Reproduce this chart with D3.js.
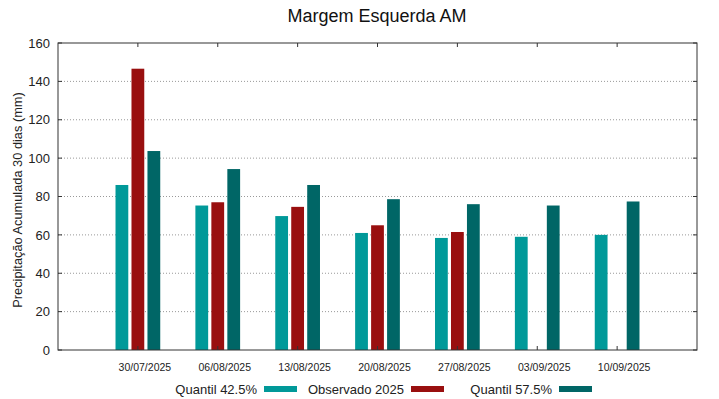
<!DOCTYPE html>
<html>
<head>
<meta charset="utf-8">
<script src="https://cdn.jsdelivr.net/npm/d3@7"></script>
<style>
  body { margin: 0; background: #fff; }
  svg { display: block; font-family: "Liberation Sans", Arial, sans-serif; }
</style>
</head>
<body>
<svg id="chart" width="719" height="399"></svg>
<script>
// data
const dates = ["30/07/2025", "06/08/2025", "13/08/2025", "20/08/2025", "27/08/2025", "03/09/2025", "10/09/2025"];
const q425 = [86, 75.3, 69.8, 61, 58.4, 59, 60];
const obs2025 = [146.6, 77, 74.6, 65, 61.5, null, null];
const q575 = [103.7, 94.3, 86, 78.6, 76, 75.3, 77.4];
const yTicks = [0, 20, 40, 60, 80, 100, 120, 140, 160];

const series = [
  { name: "Quantil 42.5%", values: q425, color: "#009999", off: -0.2 },
  { name: "Observado 2025", values: obs2025, color: "#990f0f", off: 0 },
  { name: "Quantil 57.5%", values: q575, color: "#006666", off: 0.2 }
];

const svg = d3.select("#chart");
const pl = 58, pr = 697, pt = 43, pb = 350;

const x = d3.scaleLinear().domain([0, 8]).range([pl, pr]);
const y = d3.scaleLinear().domain([0, 160]).range([pb, pt]);
const barW = 0.16;

// grid
svg.append("g")
  .selectAll("line")
  .data(yTicks.filter(d => d > 0 && d < 160))
  .join("line")
  .attr("x1", pl).attr("x2", pr)
  .attr("y1", d => y(d)).attr("y2", d => y(d))
  .attr("stroke", "#999").attr("stroke-width", 1)
  .attr("stroke-dasharray", "1,2");

// bars
series.forEach(s => {
  svg.append("g")
    .selectAll("rect")
    .data(s.values.map((v, i) => ({ v, i })).filter(d => d.v != null))
    .join("rect")
    .attr("x", d => x(d.i + 1 + s.off - barW / 2))
    .attr("width", d => x(d.i + 1 + s.off + barW / 2) - x(d.i + 1 + s.off - barW / 2))
    .attr("y", d => y(d.v))
    .attr("height", d => y(0) - y(d.v))
    .attr("fill", s.color);
});

// frame
svg.append("rect")
  .attr("x", pl).attr("y", pt)
  .attr("width", pr - pl).attr("height", pb - pt)
  .attr("fill", "none").attr("stroke", "#333").attr("stroke-width", 1);

// y axis
const yAxis = svg.append("g").attr("transform", `translate(${pl},0)`)
  .call(d3.axisLeft(y).tickValues(yTicks).tickSize(0).tickPadding(8));
yAxis.select(".domain").remove();
yAxis.selectAll("text").attr("font-size", 13).attr("fill", "#222")
  .attr("font-family", "Liberation Sans, Arial, sans-serif");

// inner y ticks left and right
svg.append("g").selectAll("line").data(yTicks).join("line")
  .attr("x1", pl).attr("x2", pl + 4)
  .attr("y1", d => y(d)).attr("y2", d => y(d)).attr("stroke", "#333");
svg.append("g").selectAll("line").data(yTicks).join("line")
  .attr("x1", pr - 4).attr("x2", pr)
  .attr("y1", d => y(d)).attr("y2", d => y(d)).attr("stroke", "#333");

// inner x ticks top and bottom
const cats = dates.map((d, i) => i + 1);
svg.append("g").selectAll("line").data(cats).join("line")
  .attr("x1", d => x(d)).attr("x2", d => x(d))
  .attr("y1", pt).attr("y2", pt + 4).attr("stroke", "#333");
svg.append("g").selectAll("line").data(cats).join("line")
  .attr("x1", d => x(d)).attr("x2", d => x(d))
  .attr("y1", pb - 4).attr("y2", pb).attr("stroke", "#333");

// x labels
svg.append("g").selectAll("text").data(dates).join("text")
  .attr("x", (d, i) => x(i + 1) + 7)
  .attr("y", 371)
  .attr("text-anchor", "middle")
  .attr("font-size", 10.5)
  .attr("fill", "#222")
  .text(d => d);

// title
svg.append("text")
  .attr("x", 377).attr("y", 22)
  .attr("text-anchor", "middle")
  .attr("font-size", 18)
  .attr("fill", "#111")
  .text("Margem Esquerda AM");

// y label
svg.append("text")
  .attr("transform", `translate(22,200) rotate(-90)`)
  .attr("text-anchor", "middle")
  .attr("font-size", 12.8)
  .attr("fill", "#222")
  .text("Precipitação Acumulada 30 dias (mm)");

// legend
const legendPos = [
  { textEnd: 257, sw: 264 },
  { textEnd: 404, sw: 411 },
  { textEnd: 552, sw: 559 }
];
series.forEach((s, i) => {
  const p = legendPos[i];
  svg.append("text")
    .attr("x", p.textEnd).attr("y", 394)
    .attr("text-anchor", "end")
    .attr("font-size", 13)
    .attr("fill", "#222")
    .text(s.name);
  svg.append("rect")
    .attr("x", p.sw).attr("y", 386)
    .attr("width", 33).attr("height", 6)
    .attr("fill", s.color);
});
</script>
</body>
</html>
